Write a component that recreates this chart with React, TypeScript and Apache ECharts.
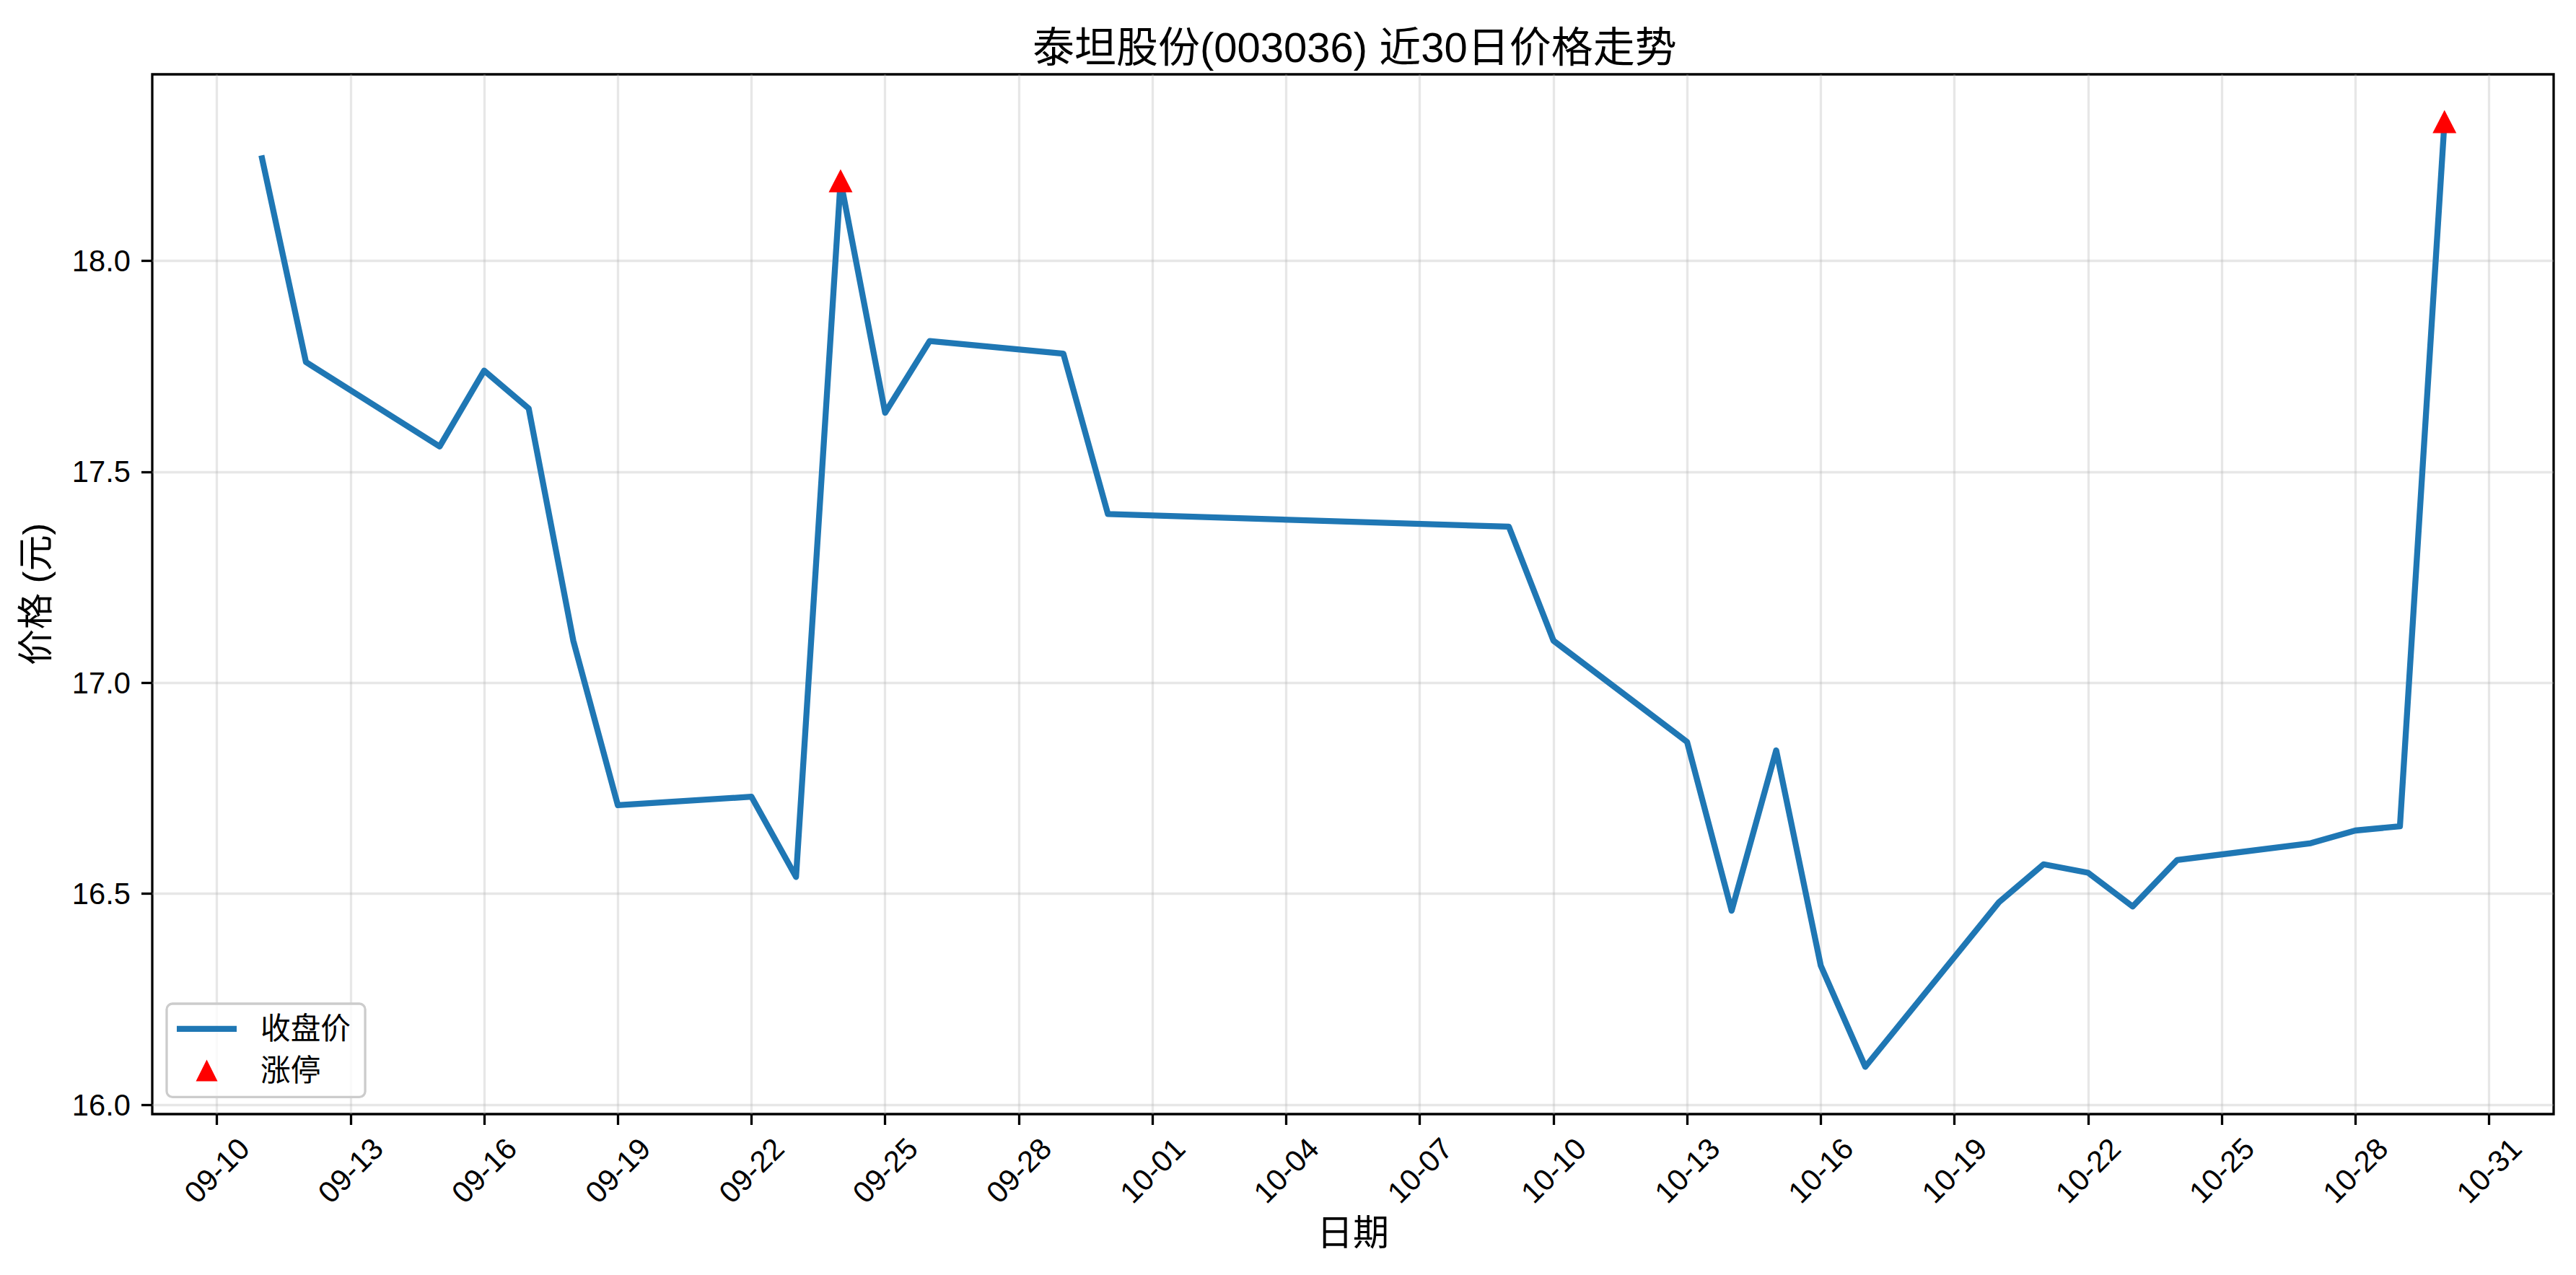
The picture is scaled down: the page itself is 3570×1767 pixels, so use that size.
import React, { useEffect, useRef } from 'react';
import * as echarts from 'echarts';

// ---------- data ----------
const dates = [
  '2025-09-11', '2025-09-12', '2025-09-15', '2025-09-16', '2025-09-17', '2025-09-18',
  '2025-09-19', '2025-09-22', '2025-09-23', '2025-09-24', '2025-09-25', '2025-09-26',
  '2025-09-29', '2025-09-30', '2025-10-09', '2025-10-10', '2025-10-13', '2025-10-14',
  '2025-10-15', '2025-10-16', '2025-10-17', '2025-10-20', '2025-10-21', '2025-10-22',
  '2025-10-23', '2025-10-24', '2025-10-27', '2025-10-28', '2025-10-29', '2025-10-30',
];
const closePrices = [
  18.25, 17.76, 17.56, 17.74, 17.65, 17.10,
  16.71, 16.73, 16.54, 18.19, 17.64, 17.81,
  17.78, 17.40, 17.37, 17.10, 16.86, 16.46,
  16.84, 16.33, 16.09, 16.48, 16.57, 16.55,
  16.47, 16.58, 16.62, 16.65, 16.66, 18.33,
];
const limitUpDates = ['2025-09-24', '2025-10-30'];
const limitUpPrices = [18.19, 18.33];

const xTickLabels = [
  '09-10', '09-13', '09-16', '09-19', '09-22', '09-25', '09-28', '10-01', '10-04',
  '10-07', '10-10', '10-13', '10-16', '10-19', '10-22', '10-25', '10-28', '10-31',
];
const tickYear = 2025;
const yTicks = [16.0, 16.5, 17.0, 17.5, 18.0];

const titleText = '泰坦股份(003036) 近30日价格走势';
const xName = '日期';
const yName = '价格 (元)';
const lineName = '收盘价';
const limitName = '涨停';

// ---------- helpers ----------
const ts = (s: string) => {
  const [y, m, d] = s.split('-').map(Number);
  return Date.UTC(y, m - 1, d);
};
const fmtMD = (v: number) => {
  const d = new Date(v);
  const m = String(d.getUTCMonth() + 1).padStart(2, '0');
  const dd = String(d.getUTCDate()).padStart(2, '0');
  return `${m}-${dd}`;
};

const FONT = "'Liberation Sans', Arial, 'Noto Sans CJK SC', sans-serif";

export default function App() {
  const ref = useRef<HTMLDivElement>(null);

  useEffect(() => {
    if (!ref.current) return;
    const chart = echarts.init(ref.current, undefined, { renderer: 'svg' });

    const xs = dates.map(ts);
    const xMin0 = Math.min(...xs);
    const xMax0 = Math.max(...xs);
    const xPad = (xMax0 - xMin0) * 0.05;
    const allY = [...closePrices, ...limitUpPrices];
    const yMin0 = Math.min(...allY);
    const yMax0 = Math.max(...allY);
    const yPad = (yMax0 - yMin0) * 0.05;

    const xTickVals = xTickLabels.map((l) => ts(`${tickYear}-${l}`));

    const gridLine = { show: true, lineStyle: { color: '#b0b0b0', opacity: 0.3, width: 3.3 } };
    const tick = { show: true, length: 15, lineStyle: { color: '#000', width: 3.3 } };

    chart.setOption({
      animation: false,
      backgroundColor: '#ffffff',
      title: {
        text: titleText,
        left: 1426,
        top: 31,
        textStyle: { fontSize: 58, fontWeight: 'normal', color: '#000', fontFamily: FONT },
      },
      grid: {
        left: 211,
        top: 103,
        width: 3328,
        height: 1441,
        show: true,
        borderColor: '#000',
        borderWidth: 3.3,
        backgroundColor: 'transparent',
      },
      legend: {
        orient: 'vertical',
        left: 231,
        top: 1391,
        padding: [14, 20, 16, 14],
        itemWidth: 83,
        itemHeight: 30,
        itemGap: 16,
        symbolKeepAspect: true,
        backgroundColor: 'rgba(255,255,255,0.8)',
        borderColor: '#cccccc',
        borderWidth: 3.3,
        borderRadius: 8,
        textStyle: { fontSize: 41.7, color: '#000', fontFamily: FONT, padding: [0, 0, 0, 28] },
        data: [
          { name: lineName, icon: 'path://M0,0H100V10H0Z', symbolKeepAspect: true },
          { name: limitName, icon: 'path://M5,0L10,10L0,10Z', symbolKeepAspect: true },
        ],
      },
      xAxis: {
        type: 'value',
        min: xMin0 - xPad,
        max: xMax0 + xPad,
        axisLine: { show: false },
        axisTick: { ...tick, customValues: xTickVals },
        axisLabel: {
          customValues: xTickVals,
          formatter: (v: number) => fmtMD(v),
          rotate: 45,
          align: 'center',
          verticalAlign: 'middle',
          margin: 78,
          fontSize: 41.7,
          color: '#000',
          fontFamily: FONT,
        },
        splitLine: gridLine,
        name: xName,
        nameLocation: 'middle',
        nameGap: 140,
        nameTextStyle: { fontSize: 50, color: '#000', fontFamily: FONT },
      },
      yAxis: {
        type: 'value',
        min: yMin0 - yPad,
        max: yMax0 + yPad,
        axisLine: { show: false },
        axisTick: { ...tick, customValues: yTicks },
        axisLabel: {
          customValues: yTicks,
          formatter: (v: number) => v.toFixed(1),
          margin: 30,
          fontSize: 41.7,
          color: '#000',
          fontFamily: FONT,
        },
        splitLine: gridLine,
        name: yName,
        nameLocation: 'middle',
        nameGap: 136,
        nameTextStyle: { fontSize: 50, color: '#000', fontFamily: FONT },
      },
      series: [
        {
          name: lineName,
          type: 'line',
          data: xs.map((x, i) => [x, closePrices[i]]),
          symbol: 'none',
          showSymbol: false,
          lineStyle: { color: '#1f77b4', width: 8.3, join: 'round' },
          itemStyle: { color: '#1f77b4' },
          z: 2,
        },
        {
          name: limitName,
          type: 'scatter',
          data: limitUpDates.map((d, i) => [ts(d), limitUpPrices[i]]),
          symbol: 'triangle',
          symbolSize: [33, 32],
          itemStyle: { color: '#ff0000', opacity: 1 },
          z: 3,
        },
      ],
    });

    return () => chart.dispose();
  }, []);

  return (
    <div
      ref={ref}
      style={{ position: 'fixed', left: 0, top: 0, width: 3570, height: 1767, background: '#fff' }}
    />
  );
}
